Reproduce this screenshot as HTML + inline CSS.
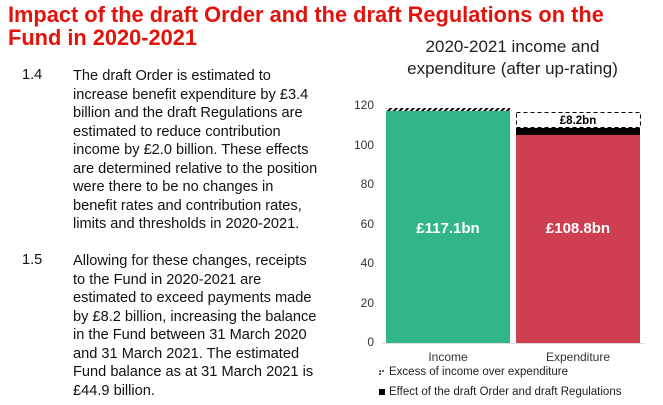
<!DOCTYPE html>
<html><head><meta charset="utf-8"><style>
body{margin:0;width:663px;height:405px;background:#fff;font-family:"Liberation Sans",Arial,sans-serif;position:relative;overflow:hidden}
.h{position:absolute;left:8px;top:3px;color:#e3120b;font-weight:bold;font-size:21.8px;line-height:23px;width:655px}
.p{position:absolute;font-size:14.6px;line-height:18.5px;color:#111}
.n{position:absolute;left:22px;font-size:14.6px;color:#111}
.ct{position:absolute;left:370px;width:285px;text-align:center;top:36px;font-size:17px;line-height:22px;color:#222}
.y{position:absolute;width:30px;text-align:right;left:344px;font-size:12px;color:#333}
</style></head><body>
<div class="h">Impact of the draft Order and the draft Regulations on the<br>Fund in 2020-2021</div>
<div class="n" style="top:67px">1.4</div>
<div class="p" style="left:73px;top:67px;width:260px">The draft Order is estimated to<br>increase benefit expenditure by £3.4<br>billion and the draft Regulations are<br>estimated to reduce contribution<br>income by £2.0 billion. These effects<br>are determined relative to the position<br>were there to be no changes in<br>benefit rates and contribution rates,<br>limits and thresholds in 2020-2021.</div>
<div class="n" style="top:252px">1.5</div>
<div class="p" style="left:73px;top:252px;width:260px">Allowing for these changes, receipts<br>to the Fund in 2020-2021 are<br>estimated to exceed payments made<br>by £8.2 billion, increasing the balance<br>in the Fund between 31 March 2020<br>and 31 March 2021. The estimated<br>Fund balance as at 31 March 2021 is<br>£44.9 billion.</div>
<div class="ct">2020-2021 income and<br>expenditure (after up-rating)</div>
<div class="y" style="top:98px">120</div>
<div class="y" style="top:138px">100</div>
<div class="y" style="top:177px">80</div>
<div class="y" style="top:217px">60</div>
<div class="y" style="top:256px">40</div>
<div class="y" style="top:296px">20</div>
<div class="y" style="top:335px">0</div>
<svg style="position:absolute;left:0;top:0" width="663" height="405">
<defs><pattern id="hp" width="4" height="4" patternUnits="userSpaceOnUse" patternTransform="rotate(45)"><rect width="2" height="4" fill="#000"/></pattern></defs>
<line x1="382" y1="343.5" x2="645" y2="343.5" stroke="#ddd"/>
<rect x="386" y="111" width="124" height="232" fill="#33b58b"/>
<rect x="386" y="108" width="124" height="3" fill="url(#hp)"/>
<rect x="516" y="135" width="124" height="208" fill="#cf3f52"/>
<rect x="516" y="128" width="124" height="7" fill="#000"/>
<rect x="516.5" y="112.5" width="124" height="15" fill="none" stroke="#000" stroke-dasharray="4,3"/>
<text x="578" y="124" text-anchor="middle" font-size="11.5" font-weight="bold" font-family="Liberation Sans,Arial,sans-serif">£8.2bn</text>
<text x="448" y="233" text-anchor="middle" font-size="15" font-weight="bold" fill="#fff" font-family="Liberation Sans,Arial,sans-serif">£117.1bn</text>
<text x="578" y="233" text-anchor="middle" font-size="15" font-weight="bold" fill="#fff" font-family="Liberation Sans,Arial,sans-serif">£108.8bn</text>
<text x="448" y="361" text-anchor="middle" font-size="12" fill="#333" font-family="Liberation Sans,Arial,sans-serif">Income</text>
<text x="578" y="361" text-anchor="middle" font-size="12" fill="#333" font-family="Liberation Sans,Arial,sans-serif">Expenditure</text>
<path d="M380 375 V371 H385" stroke="#000" fill="none" stroke-dasharray="2,1" stroke-width="1.3"/>
<text x="389" y="375" font-size="11.5" fill="#222" font-family="Liberation Sans,Arial,sans-serif">Excess of income over expenditure</text>
<rect x="379" y="389" width="6" height="6" fill="#000"/>
<text x="389" y="395" font-size="11.5" fill="#222" font-family="Liberation Sans,Arial,sans-serif">Effect of the draft Order and draft Regulations</text>
</svg>
</body></html>
